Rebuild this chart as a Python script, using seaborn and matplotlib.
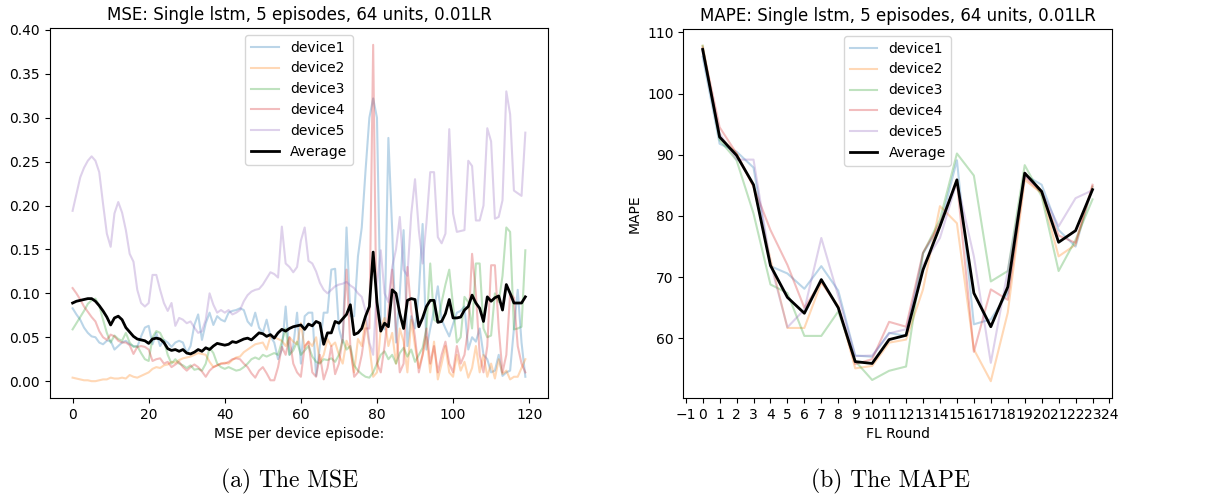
import numpy as np
import seaborn as sns
from matplotlib import pyplot as plt
from matplotlib.ticker import MultipleLocator

# MSE per device episode (120 episodes)
mse_dev1 = [0.083, 0.076, 0.070, 0.061, 0.055, 0.051, 0.050, 0.044, 0.042, 0.046,
            0.046, 0.036, 0.040, 0.044, 0.046, 0.042, 0.040, 0.039, 0.051, 0.061,
            0.063, 0.042, 0.055, 0.040, 0.047, 0.044, 0.039, 0.044, 0.046, 0.044,
            0.032, 0.040, 0.064, 0.076, 0.047, 0.066, 0.078, 0.064, 0.074, 0.070,
            0.068, 0.078, 0.080, 0.081, 0.083, 0.081, 0.068, 0.063, 0.078, 0.061,
            0.055, 0.070, 0.051, 0.044, 0.025, 0.036, 0.085, 0.030, 0.040, 0.078,
            0.020, 0.074, 0.078, 0.078, 0.006, 0.040, 0.078, 0.078, 0.127, 0.128,
            0.060, 0.044, 0.175, 0.074, 0.074, 0.142, 0.175, 0.240, 0.300, 0.322,
            0.300, 0.067, 0.059, 0.277, 0.172, 0.044, 0.100, 0.172, 0.040, 0.074,
            0.060, 0.100, 0.179, 0.036, 0.060, 0.081, 0.108, 0.070, 0.060, 0.051,
            0.065, 0.078, 0.080, 0.085, 0.036, 0.050, 0.045, 0.060, 0.030, 0.025,
            0.010, 0.012, 0.030, 0.006, 0.010, 0.012, 0.060, 0.104, 0.044, 0.005]
mse_dev2 = [0.004, 0.003, 0.002, 0.001, 0.001, 0.000, 0.000, 0.001, 0.002, 0.002,
            0.004, 0.003, 0.003, 0.004, 0.003, 0.007, 0.005, 0.004, 0.006, 0.008,
            0.010, 0.014, 0.016, 0.015, 0.018, 0.019, 0.022, 0.021, 0.024, 0.026,
            0.027, 0.028, 0.030, 0.032, 0.031, 0.030, 0.022, 0.016, 0.018, 0.020,
            0.021, 0.020, 0.024, 0.027, 0.028, 0.033, 0.036, 0.039, 0.042, 0.043,
            0.044, 0.036, 0.051, 0.050, 0.048, 0.046, 0.040, 0.050, 0.045, 0.042,
            0.066, 0.038, 0.045, 0.040, 0.050, 0.021, 0.030, 0.048, 0.040, 0.044,
            0.030, 0.020, 0.046, 0.035, 0.010, 0.048, 0.040, 0.070, 0.040, 0.005,
            0.010, 0.060, 0.072, 0.040, 0.055, 0.020, 0.060, 0.045, 0.010, 0.070,
            0.040, 0.015, 0.030, 0.050, 0.010, 0.045, 0.002, 0.020, 0.040, 0.010,
            0.005, 0.030, 0.012, 0.022, 0.004, 0.015, 0.040, 0.010, 0.030, 0.005,
            0.020, 0.003, 0.025, 0.008, 0.012, 0.002, 0.005, 0.005, 0.015, 0.025]
mse_dev3 = [0.059, 0.066, 0.073, 0.080, 0.088, 0.092, 0.094, 0.086, 0.070, 0.055,
            0.044, 0.052, 0.048, 0.046, 0.055, 0.044, 0.039, 0.040, 0.032, 0.025,
            0.023, 0.050, 0.057, 0.055, 0.046, 0.030, 0.020, 0.025, 0.020, 0.018,
            0.015, 0.018, 0.013, 0.014, 0.012, 0.020, 0.038, 0.032, 0.020, 0.016,
            0.014, 0.016, 0.014, 0.012, 0.013, 0.016, 0.020, 0.025, 0.027, 0.025,
            0.030, 0.028, 0.030, 0.032, 0.030, 0.045, 0.060, 0.030, 0.035, 0.045,
            0.030, 0.035, 0.040, 0.028, 0.022, 0.020, 0.025, 0.024, 0.026, 0.022,
            0.030, 0.047, 0.036, 0.040, 0.018, 0.012, 0.008, 0.005, 0.004, 0.010,
            0.020, 0.030, 0.034, 0.025, 0.030, 0.020, 0.032, 0.038, 0.028, 0.036,
            0.022, 0.030, 0.038, 0.060, 0.134, 0.070, 0.067, 0.090, 0.110, 0.127,
            0.086, 0.044, 0.050, 0.096, 0.090, 0.060, 0.134, 0.134, 0.060, 0.050,
            0.052, 0.100, 0.090, 0.120, 0.175, 0.170, 0.059, 0.060, 0.062, 0.149]
mse_dev4 = [0.106, 0.100, 0.093, 0.085, 0.079, 0.073, 0.068, 0.057, 0.050, 0.047,
            0.053, 0.051, 0.046, 0.044, 0.044, 0.041, 0.031, 0.039, 0.040, 0.039,
            0.036, 0.023, 0.025, 0.026, 0.020, 0.022, 0.016, 0.019, 0.022, 0.016,
            0.012, 0.016, 0.019, 0.016, 0.011, 0.005, 0.012, 0.016, 0.018, 0.020,
            0.020, 0.022, 0.025, 0.026, 0.025, 0.020, 0.016, 0.009, 0.004, 0.012,
            0.016, 0.009, 0.001, 0.001, 0.016, 0.039, 0.030, 0.050, 0.020, 0.010,
            0.005, 0.040, 0.045, 0.010, 0.005, 0.030, 0.002, 0.015, 0.040, 0.008,
            0.020, 0.050, 0.127, 0.040, 0.005, 0.010, 0.030, 0.060, 0.060, 0.383,
            0.020, 0.010, 0.040, 0.080, 0.127, 0.060, 0.010, 0.020, 0.130, 0.080,
            0.050, 0.010, 0.030, 0.060, 0.020, 0.040, 0.010, 0.030, 0.045, 0.020,
            0.010, 0.040, 0.020, 0.030, 0.060, 0.145, 0.100, 0.030, 0.010, 0.040,
            0.132, 0.132, 0.060, 0.010, 0.030, 0.100, 0.095, 0.040, 0.020, 0.010]
mse_dev5 = [0.194, 0.213, 0.232, 0.243, 0.251, 0.256, 0.251, 0.238, 0.202, 0.168,
            0.153, 0.191, 0.204, 0.192, 0.172, 0.145, 0.136, 0.104, 0.089, 0.085,
            0.089, 0.121, 0.121, 0.104, 0.089, 0.080, 0.089, 0.063, 0.072, 0.070,
            0.066, 0.068, 0.061, 0.055, 0.057, 0.070, 0.100, 0.087, 0.078, 0.081,
            0.078, 0.081, 0.076, 0.078, 0.081, 0.091, 0.098, 0.102, 0.104, 0.105,
            0.110, 0.117, 0.124, 0.122, 0.118, 0.176, 0.134, 0.130, 0.124, 0.130,
            0.160, 0.175, 0.137, 0.134, 0.125, 0.112, 0.104, 0.100, 0.104, 0.108,
            0.110, 0.111, 0.113, 0.109, 0.106, 0.100, 0.096, 0.080, 0.044, 0.030,
            0.110, 0.149, 0.100, 0.090, 0.130, 0.150, 0.187, 0.127, 0.120, 0.190,
            0.230, 0.172, 0.134, 0.180, 0.238, 0.238, 0.164, 0.157, 0.168, 0.287,
            0.191, 0.170, 0.171, 0.172, 0.251, 0.245, 0.183, 0.183, 0.200, 0.288,
            0.273, 0.185, 0.187, 0.206, 0.330, 0.304, 0.217, 0.214, 0.211, 0.283]
mse_avg = [0.089, 0.091, 0.092, 0.093, 0.094, 0.094, 0.091, 0.086, 0.080, 0.073,
           0.064, 0.072, 0.074, 0.070, 0.061, 0.056, 0.051, 0.048, 0.047, 0.046,
           0.043, 0.048, 0.049, 0.048, 0.044, 0.037, 0.035, 0.036, 0.034, 0.036,
           0.032, 0.031, 0.033, 0.036, 0.034, 0.038, 0.036, 0.040, 0.043, 0.042,
           0.041, 0.042, 0.045, 0.044, 0.046, 0.048, 0.049, 0.047, 0.051, 0.055,
           0.054, 0.051, 0.053, 0.049, 0.055, 0.059, 0.057, 0.060, 0.062, 0.063,
           0.064, 0.059, 0.065, 0.063, 0.068, 0.066, 0.042, 0.055, 0.055, 0.068,
           0.066, 0.071, 0.076, 0.087, 0.053, 0.055, 0.060, 0.074, 0.085, 0.147,
           0.090, 0.057, 0.066, 0.062, 0.104, 0.100, 0.077, 0.060, 0.092, 0.094,
           0.093, 0.062, 0.072, 0.085, 0.092, 0.092, 0.067, 0.068, 0.077, 0.093,
           0.072, 0.072, 0.073, 0.081, 0.085, 0.098, 0.089, 0.083, 0.068, 0.096,
           0.091, 0.095, 0.097, 0.081, 0.110, 0.100, 0.089, 0.089, 0.089, 0.096]

# MAPE per FL round (24 rounds)
mape_dev1 = [106.0, 91.8, 90.5, 87.9, 71.8, 70.6, 68.1, 71.8, 67.8, 57.2, 57.0, 60.9,
             60.4, 73.9, 78.3, 89.1, 62.3, 63.1, 67.4, 86.7, 85.1, 77.7, 75.0, 84.8]
mape_dev2 = [107.8, 93.0, 90.2, 84.8, 72.9, 61.7, 61.7, 69.1, 65.3, 55.1, 55.5, 59.3,
             59.8, 68.0, 81.6, 78.8, 58.2, 53.0, 64.2, 85.9, 83.7, 73.4, 75.3, 84.8]
mape_dev3 = [107.8, 92.4, 89.1, 80.4, 68.8, 67.4, 60.4, 60.4, 64.4, 56.3, 53.2, 54.7,
             55.4, 73.9, 79.4, 90.2, 86.6, 69.3, 71.0, 88.3, 83.2, 71.0, 76.1, 82.7]
mape_dev4 = [107.5, 94.5, 90.2, 84.8, 77.7, 72.0, 65.0, 69.3, 65.0, 55.8, 56.6, 62.7,
             61.9, 74.0, 78.8, 85.6, 57.8, 68.0, 66.3, 86.4, 83.8, 76.8, 75.6, 85.1]
mape_dev5 = [107.0, 93.5, 89.2, 89.2, 72.3, 61.8, 64.7, 76.4, 66.9, 57.1, 57.2, 60.8,
             61.5, 72.0, 76.4, 85.6, 73.4, 56.0, 71.0, 86.7, 84.0, 78.3, 82.9, 84.2]
mape_avg = [107.2, 92.9, 89.9, 85.1, 71.9, 66.7, 64.1, 69.6, 65.0, 56.2, 55.9, 59.8,
            60.5, 71.2, 78.3, 85.9, 67.4, 61.9, 68.4, 87.0, 84.0, 75.7, 77.6, 84.3]

labels = ["device1", "device2", "device3", "device4", "device5"]
colors = sns.color_palette("tab10")

fig = plt.figure(figsize=(12.07, 4.95), dpi=100)
ax1 = fig.add_axes([0.0414, 0.196, 0.4126, 0.7474])
ax2 = fig.add_axes([0.566, 0.196, 0.3553, 0.7454])

episodes = np.arange(len(mse_avg))
for i, dev in enumerate([mse_dev1, mse_dev2, mse_dev3, mse_dev4, mse_dev5]):
    sns.lineplot(x=episodes, y=dev, ax=ax1, color=colors[i], alpha=0.3, label=labels[i])
sns.lineplot(x=episodes, y=mse_avg, ax=ax1, color="black", linewidth=2, label="Average")
ax1.set_title("MSE: Single lstm, 5 episodes, 64 units, 0.01LR")
ax1.set_xlabel("MSE per device episode:")
ax1.set_ylabel("")
ax1.legend(loc="upper center")

rounds = np.arange(len(mape_avg))
for i, dev in enumerate([mape_dev1, mape_dev2, mape_dev3, mape_dev4, mape_dev5]):
    sns.lineplot(x=rounds, y=dev, ax=ax2, color=colors[i], alpha=0.3, label=labels[i])
sns.lineplot(x=rounds, y=mape_avg, ax=ax2, color="black", linewidth=2, label="Average")
ax2.set_title("MAPE: Single lstm, 5 episodes, 64 units, 0.01LR")
ax2.set_xlabel("FL Round")
ax2.set_ylabel("MAPE")
ax2.xaxis.set_major_locator(MultipleLocator(1))
ax2.legend(loc="upper center")

fig.text(0.2403, 0.028, "(a) The MSE", ha="center", va="center", fontsize=17, family="cmr10")
fig.text(0.7374, 0.028, "(b) The MAPE", ha="center", va="center", fontsize=17, family="cmr10")

fig.savefig("out.png", dpi=100)
